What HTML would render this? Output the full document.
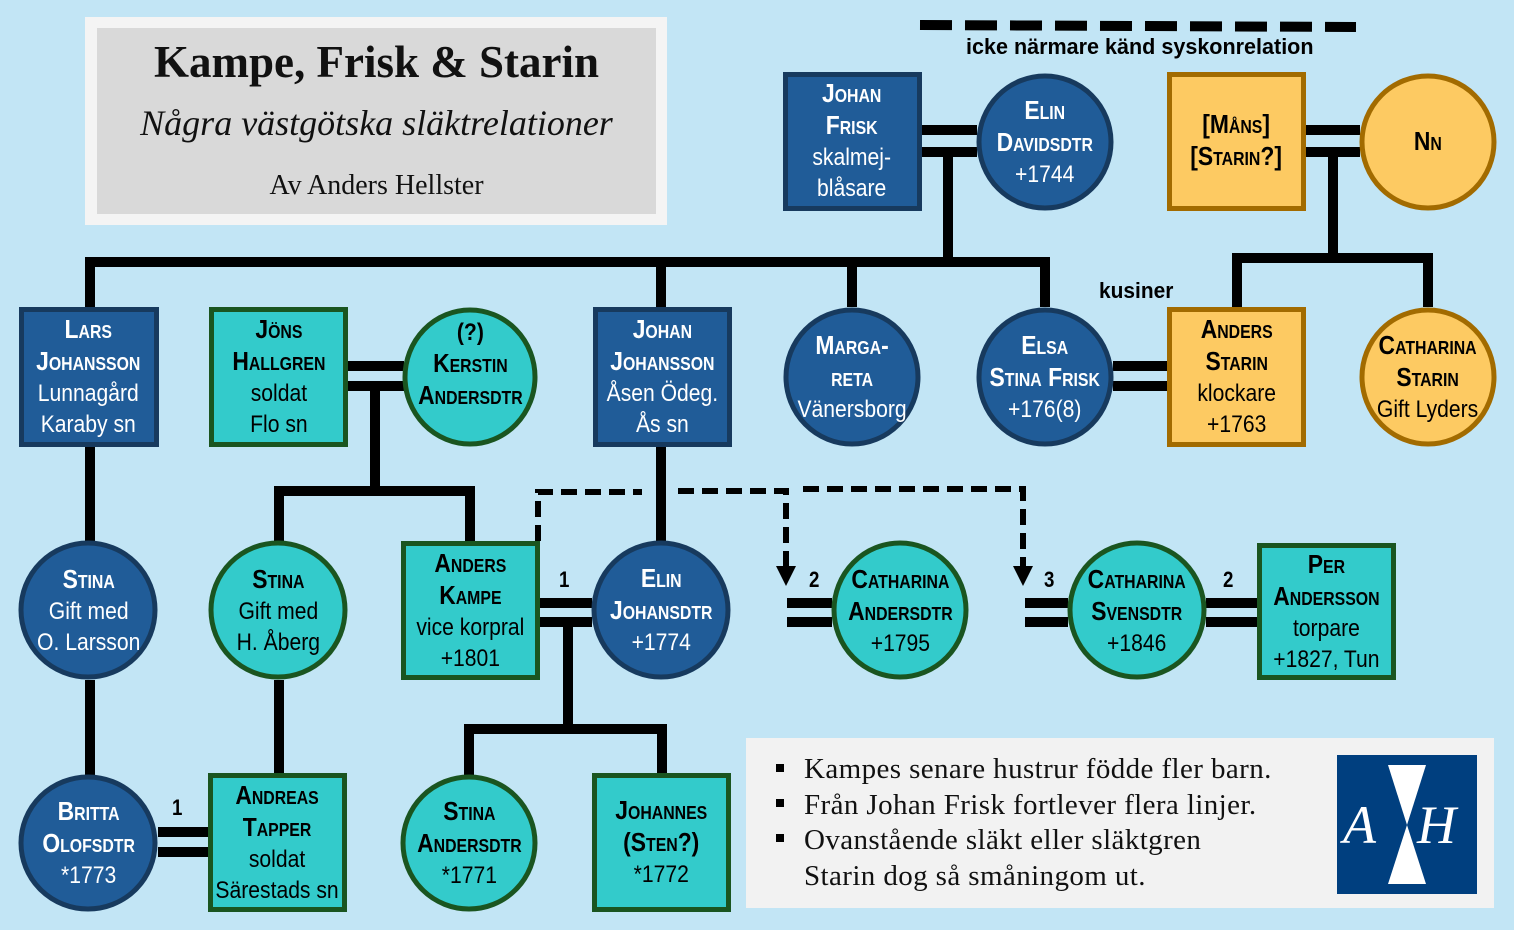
<!DOCTYPE html>
<html><head><meta charset="utf-8">
<style>
body{margin:0;width:1514px;height:930px;background:#c2e5f5;position:relative;overflow:hidden;font-family:"Liberation Sans",sans-serif}
svg{position:absolute;left:0;top:0}
.n{position:absolute;display:flex;align-items:center;justify-content:center;text-align:center}
.t{font-size:24px;line-height:31px;transform:scaleX(.88);white-space:nowrap}
.w{color:#fff}.k{color:#000}
.sc{font-variant:small-caps;font-weight:bold;font-size:26px}
.lab{position:absolute;font-weight:bold;font-size:22px;transform:scaleX(.85);transform-origin:left top;white-space:nowrap}
.title{position:absolute;left:97px;top:28px;width:559px;text-align:center;font-family:"Liberation Serif",serif;color:#111}
.notes{position:absolute;left:804px;top:752px;font-family:"Liberation Serif",serif;font-size:29px;letter-spacing:0.4px;line-height:35.5px;color:#111}
</style></head><body>
<svg width="1514" height="930" viewBox="0 0 1514 930">
<rect x="85" y="17" width="582" height="208" fill="#f4f4f4"/>
<rect x="97" y="28" width="559" height="186" fill="#d9d9d9"/>
<line x1="920" y1="25" x2="1356" y2="27" stroke="#000" stroke-width="10" stroke-dasharray="32,13"/>
<g stroke="#000" stroke-width="10" fill="none">
<line x1="921" y1="130" x2="977" y2="130"/><line x1="921" y1="152" x2="977" y2="152"/>
<line x1="948" y1="152" x2="948" y2="262"/>
<polyline points="90,307 90,262 1045,262 1045,307"/>
<line x1="661" y1="262" x2="661" y2="307"/><line x1="852" y1="262" x2="852" y2="307"/>
<line x1="1306" y1="130" x2="1360" y2="130"/><line x1="1306" y1="152" x2="1360" y2="152"/>
<line x1="1333" y1="152" x2="1333" y2="258"/>
<polyline points="1237,307 1237,258 1428,258 1428,307"/>
<line x1="348" y1="366" x2="404" y2="366"/><line x1="348" y1="386" x2="404" y2="386"/>
<line x1="375" y1="386" x2="375" y2="491"/>
<polyline points="279,541 279,491 470,491 470,541"/>
<line x1="90" y1="446" x2="90" y2="541"/><line x1="90" y1="680" x2="90" y2="775"/>
<line x1="279" y1="680" x2="279" y2="773"/>
<line x1="661" y1="446" x2="661" y2="541"/>
<line x1="540" y1="603" x2="592" y2="603"/><line x1="540" y1="622" x2="592" y2="622"/>
<line x1="568" y1="622" x2="568" y2="729"/>
<polyline points="469,775 469,729 662,729 662,773"/>
<line x1="1113" y1="366" x2="1167" y2="366"/><line x1="1113" y1="386" x2="1167" y2="386"/>
<line x1="158" y1="832" x2="208" y2="832"/><line x1="158" y1="852" x2="208" y2="852"/>
<line x1="787" y1="603" x2="832" y2="603"/><line x1="787" y1="622" x2="832" y2="622"/>
<line x1="1025" y1="603" x2="1068" y2="603"/><line x1="1025" y1="622" x2="1068" y2="622"/>
<line x1="1206" y1="603" x2="1257" y2="603"/><line x1="1206" y1="622" x2="1257" y2="622"/>
</g>
<g stroke="#000" stroke-width="6" fill="none" stroke-dasharray="16,8">
<polyline points="538,541 538,492 642,492"/>
<polyline points="678,491 786,491 786,568"/>
<polyline points="803,489 1023,489 1023,568"/>
</g>
<polygon points="776,566 796,566 786,586" fill="#000"/>
<polygon points="1013,566 1033,566 1023,586" fill="#000"/>
<g stroke-width="5">
<g fill="#205c98" stroke="#173a5e">
<rect x="785.5" y="74.5" width="134" height="134"/>
<ellipse cx="1045" cy="142" rx="66" ry="66"/>
<rect x="21.5" y="309.5" width="135" height="135"/>
<rect x="595.5" y="309.5" width="134" height="135"/>
<ellipse cx="852" cy="377" rx="66" ry="67"/>
<ellipse cx="1045" cy="377" rx="66" ry="67"/>
<ellipse cx="88" cy="610" rx="67" ry="67"/>
<ellipse cx="661" cy="610" rx="67" ry="67"/>
<ellipse cx="88" cy="843" rx="67" ry="66"/>
</g>
<g fill="#fdca62" stroke="#a26b00">
<rect x="1169.5" y="74.5" width="134" height="134"/>
<ellipse cx="1428" cy="142" rx="66" ry="66"/>
<rect x="1169.5" y="309.5" width="134" height="135"/>
<ellipse cx="1428" cy="377" rx="66" ry="67"/>
</g>
<g fill="#33cbcb" stroke="#1a5520">
<rect x="211.5" y="309.5" width="134" height="135"/>
<ellipse cx="470" cy="377" rx="65" ry="67"/>
<ellipse cx="278" cy="610" rx="67" ry="67"/>
<rect x="403.5" y="543.5" width="134" height="134"/>
<ellipse cx="900" cy="610" rx="66" ry="67"/>
<ellipse cx="1137" cy="610" rx="67" ry="67"/>
<rect x="1259.5" y="545.5" width="134" height="132"/>
<rect x="210.5" y="775.5" width="134" height="134"/>
<ellipse cx="469" cy="843" rx="66" ry="66"/>
<rect x="594.5" y="775.5" width="134" height="134"/>
</g>
</g>
<rect x="746" y="738" width="748" height="170" fill="#f2f2f2"/>
<rect x="1337" y="755" width="140" height="139" fill="#003f7f"/>
<polygon points="1388,765 1426,765 1407,825" fill="#fff"/>
<polygon points="1388,884 1426,884 1407,825" fill="#fff"/>
<text x="1343" y="843" fill="#fff" font-family="Liberation Serif,serif" font-style="italic" font-size="54">A</text>
<text x="1417" y="843" fill="#fff" font-family="Liberation Serif,serif" font-style="italic" font-size="54">H</text>
<g fill="#000"><rect x="776" y="764" width="8" height="8"/><rect x="776" y="799" width="8" height="8"/><rect x="776" y="834" width="8" height="8"/></g>
</svg>

<div class="title"><div style="font-weight:bold;font-size:45px;margin-top:8px">Kampe, Frisk &amp; Starin</div>
<div style="font-style:italic;font-size:36px;margin-top:14px">Några västgötska släktrelationer</div>
<div style="font-size:28px;margin-top:26px">Av Anders Hellster</div></div>

<div class="lab" style="left:966px;top:34px;transform:scaleX(.98)">icke närmare känd syskonrelation</div>
<div class="lab" style="left:1099px;top:278px;transform:scaleX(.95)">kusiner</div>
<div class="lab" style="left:559px;top:567px">1</div>
<div class="lab" style="left:172px;top:795px">1</div>
<div class="lab" style="left:809px;top:567px">2</div>
<div class="lab" style="left:1044px;top:567px">3</div>
<div class="lab" style="left:1223px;top:567px">2</div>

<div class="notes">Kampes senare hustrur födde fler barn.<br>Från Johan Frisk fortlever flera linjer.<br>Ovanstående släkt eller släktgren<br>Starin dog så småningom ut.</div>

<div class="n w" style="left:783px;top:72px;width:138px;height:138px"><div class="t"><span class="sc">Johan</span><br><span class="sc">Frisk</span><br>skalmej-<br>blåsare</div></div>
<div class="n w" style="left:977px;top:74px;width:136px;height:136px"><div class="t"><span class="sc">Elin</span><br><span class="sc">Davidsdtr</span><br>+1744</div></div>
<div class="n k" style="left:1167px;top:72px;width:139px;height:138px"><div class="t"><span class="sc">[Måns]</span><br><span class="sc">[Starin?]</span></div></div>
<div class="n k" style="left:1360px;top:74px;width:136px;height:136px"><div class="t"><span class="sc">Nn</span></div></div>
<div class="n w" style="left:19px;top:307px;width:139px;height:139px"><div class="t"><span class="sc">Lars</span><br><span class="sc">Johansson</span><br>Lunnagård<br>Karaby sn</div></div>
<div class="n k" style="left:209px;top:307px;width:139px;height:139px"><div class="t"><span class="sc">Jöns</span><br><span class="sc">Hallgren</span><br>soldat<br>Flo sn</div></div>
<div class="n k" style="left:403px;top:300px;width:135px;height:128px"><div class="t"><b>(?)</b><br><span class="sc">Kerstin</span><br><span class="sc">Andersdtr</span></div></div>
<div class="n w" style="left:593px;top:307px;width:138px;height:139px"><div class="t"><span class="sc">Johan</span><br><span class="sc">Johansson</span><br>Åsen Ödeg.<br>Ås sn</div></div>
<div class="n w" style="left:784px;top:309px;width:136px;height:136px"><div class="t"><span class="sc">Marga-</span><br><span class="sc">reta</span><br>Vänersborg</div></div>
<div class="n w" style="left:977px;top:309px;width:136px;height:136px"><div class="t"><span class="sc">Elsa</span><br><span class="sc">Stina Frisk</span><br>+176(8)</div></div>
<div class="n k" style="left:1167px;top:307px;width:139px;height:139px"><div class="t"><span class="sc">Anders</span><br><span class="sc">Starin</span><br>klockare<br>+1763</div></div>
<div class="n k" style="left:1360px;top:309px;width:136px;height:136px"><div class="t"><span class="sc">Catharina</span><br><span class="sc">Starin</span><br>Gift Lyders</div></div>
<div class="n w" style="left:19px;top:541px;width:139px;height:139px"><div class="t"><span class="sc">Stina</span><br>Gift med<br>O. Larsson</div></div>
<div class="n k" style="left:209px;top:541px;width:139px;height:139px"><div class="t"><span class="sc">Stina</span><br>Gift med<br>H. Åberg</div></div>
<div class="n k" style="left:401px;top:541px;width:139px;height:139px"><div class="t"><span class="sc">Anders</span><br><span class="sc">Kampe</span><br>vice korpral<br>+1801</div></div>
<div class="n w" style="left:592px;top:541px;width:139px;height:139px"><div class="t"><span class="sc">Elin</span><br><span class="sc">Johansdtr</span><br>+1774</div></div>
<div class="n k" style="left:832px;top:543px;width:136px;height:137px"><div class="t"><span class="sc">Catharina</span><br><span class="sc">Andersdtr</span><br>+1795</div></div>
<div class="n k" style="left:1068px;top:543px;width:138px;height:137px"><div class="t"><span class="sc">Catharina</span><br><span class="sc">Svensdtr</span><br>+1846</div></div>
<div class="n k" style="left:1257px;top:543px;width:139px;height:137px"><div class="t"><span class="sc">Per</span><br><span class="sc">Andersson</span><br>torpare<br>+1827, Tun</div></div>
<div class="n w" style="left:19px;top:775px;width:139px;height:136px"><div class="t"><span class="sc">Britta</span><br><span class="sc">Olofsdtr</span><br>*1773</div></div>
<div class="n k" style="left:208px;top:773px;width:139px;height:139px"><div class="t"><span class="sc">Andreas</span><br><span class="sc">Tapper</span><br>soldat<br>Särestads sn</div></div>
<div class="n k" style="left:401px;top:775px;width:136px;height:136px"><div class="t"><span class="sc">Stina</span><br><span class="sc">Andersdtr</span><br>*1771</div></div>
<div class="n k" style="left:592px;top:773px;width:139px;height:139px"><div class="t"><span class="sc">Johannes</span><br><span class="sc">(Sten?)</span><br>*1772</div></div>
</body></html>
